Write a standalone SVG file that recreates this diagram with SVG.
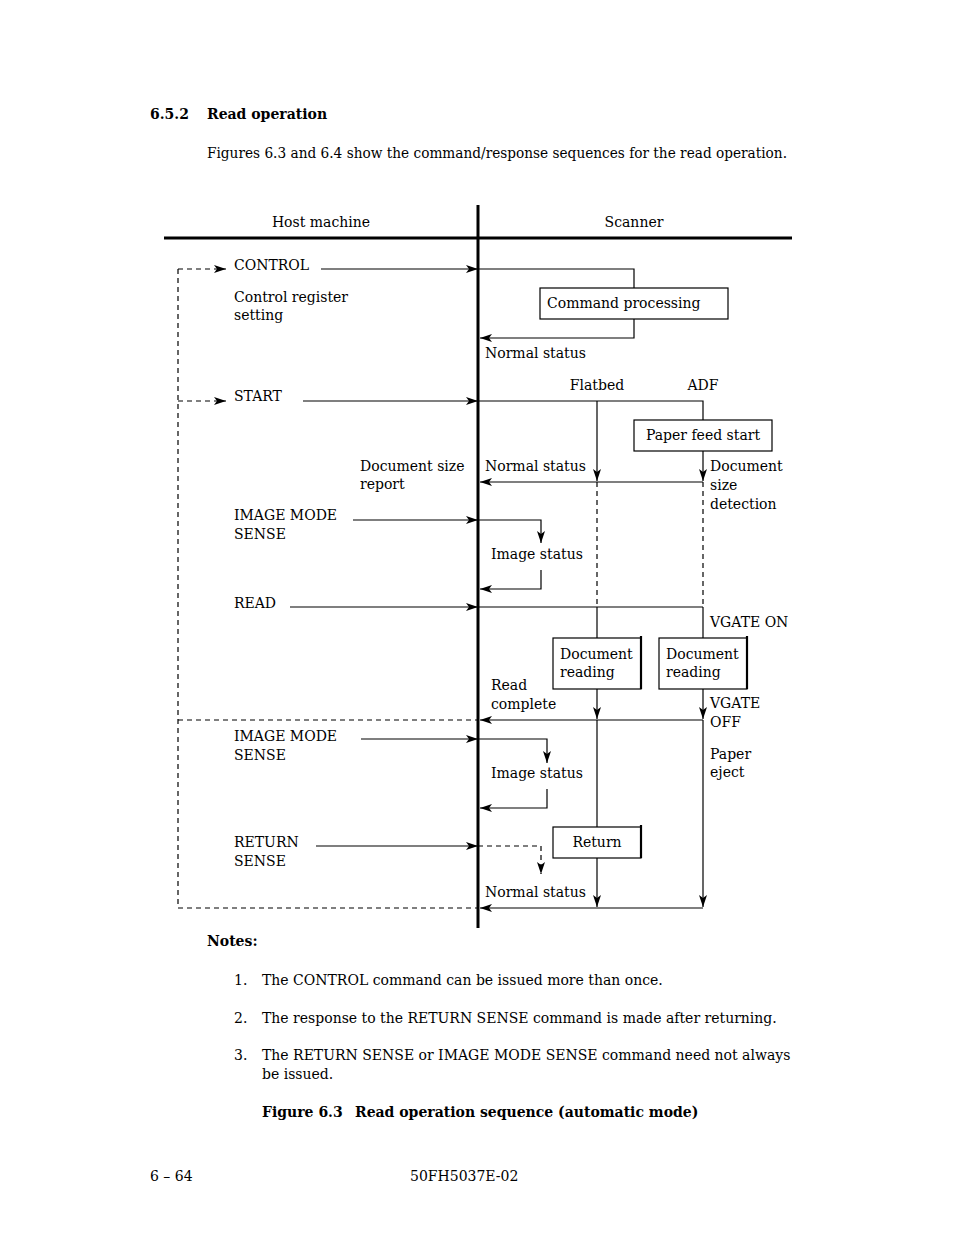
<svg xmlns="http://www.w3.org/2000/svg" width="954" height="1235" viewBox="0 0 954 1235">
<style>
text{font-family:"DejaVu Serif","Liberation Serif",serif;font-size:14px;fill:#000}
.b{font-weight:bold}
.c{text-anchor:middle}
.ln{stroke:#000;stroke-width:1.2;fill:none}
.ds{stroke:#000;stroke-width:1.2;fill:none;stroke-dasharray:5,4}
.thick{stroke:#000;stroke-width:3;fill:none}
.box{stroke:#000;stroke-width:1.2;fill:#fff}
.sh{stroke:#000;stroke-width:2.2;fill:none}
</style>
<defs>
<marker id="ah" viewBox="0 0 12 8" refX="12" refY="4" markerWidth="12" markerHeight="8" markerUnits="userSpaceOnUse" orient="auto">
<path d="M0,0 L12,4 L0,8 L3,4 z" fill="#000"/>
</marker>
</defs>
<rect width="954" height="1235" fill="#fff"/>

<g id="heading">
<text class="b" x="150" y="119">6.5.2</text>
<text class="b" x="207" y="119">Read operation</text>
<text x="207" y="158" textLength="580" lengthAdjust="spacingAndGlyphs">Figures 6.3 and 6.4 show the command/response sequences for the read operation.</text>
</g>

<g id="lanes">
<line class="thick" x1="478" y1="205" x2="478" y2="928"/>
<line class="thick" x1="164" y1="238" x2="792" y2="238"/>
<text class="c" x="321" y="227">Host machine</text>
<text class="c" x="634" y="227">Scanner</text>
</g>

<g id="connectors">
<!-- loop dashed -->
<line class="ds" x1="178" y1="269" x2="178" y2="908"/>
<line class="ds" x1="178" y1="269" x2="226" y2="269" marker-end="url(#ah)"/>
<line class="ds" x1="178" y1="401" x2="226" y2="401" marker-end="url(#ah)"/>
<line class="ds" x1="178" y1="720" x2="478" y2="720"/>
<line class="ds" x1="178" y1="908" x2="478" y2="908"/>
<!-- CONTROL -->
<line class="ln" x1="321" y1="269" x2="478" y2="269" marker-end="url(#ah)"/>
<polyline class="ln" points="478,269 634,269 634,288"/>
<polyline class="ln" points="634,319 634,338 480,338" marker-end="url(#ah)"/>
<!-- START -->
<line class="ln" x1="303" y1="401" x2="478" y2="401" marker-end="url(#ah)"/>
<polyline class="ln" points="478,401 703,401 703,420"/>
<line class="ln" x1="597" y1="401" x2="597" y2="481" marker-end="url(#ah)"/>
<line class="ln" x1="703" y1="451" x2="703" y2="481" marker-end="url(#ah)"/>
<line class="ln" x1="703" y1="482" x2="480" y2="482" marker-end="url(#ah)"/>
<line class="ds" x1="597" y1="482" x2="597" y2="607"/>
<line class="ds" x1="703" y1="482" x2="703" y2="607"/>
<!-- IMAGE MODE SENSE 1 -->
<line class="ln" x1="353" y1="520" x2="478" y2="520" marker-end="url(#ah)"/>
<polyline class="ln" points="478,520 541,520 541,543" marker-end="url(#ah)"/>
<polyline class="ln" points="541,570 541,589 480,589" marker-end="url(#ah)"/>
<!-- READ -->
<line class="ln" x1="290" y1="607" x2="478" y2="607" marker-end="url(#ah)"/>
<line class="ln" x1="478" y1="607" x2="703" y2="607"/>
<line class="ln" x1="597" y1="607" x2="597" y2="638"/>
<line class="ln" x1="703" y1="607" x2="703" y2="638"/>
<line class="ln" x1="597" y1="689" x2="597" y2="719" marker-end="url(#ah)"/>
<line class="ln" x1="703" y1="689" x2="703" y2="719" marker-end="url(#ah)"/>
<line class="ln" x1="703" y1="720" x2="480" y2="720" marker-end="url(#ah)"/>
<line class="ln" x1="597" y1="720" x2="597" y2="827"/>
<line class="ln" x1="597" y1="858" x2="597" y2="907" marker-end="url(#ah)"/>
<line class="ln" x1="703" y1="720" x2="703" y2="907" marker-end="url(#ah)"/>
<line class="ln" x1="703" y1="908" x2="480" y2="908" marker-end="url(#ah)"/>
<!-- IMAGE MODE SENSE 2 -->
<line class="ln" x1="361" y1="739" x2="478" y2="739" marker-end="url(#ah)"/>
<polyline class="ln" points="478,739 547,739 547,763" marker-end="url(#ah)"/>
<polyline class="ln" points="547,789 547,808 480,808" marker-end="url(#ah)"/>
<!-- RETURN SENSE -->
<line class="ln" x1="316" y1="846" x2="478" y2="846" marker-end="url(#ah)"/>
<polyline class="ds" points="478,846 541,846 541,874" marker-end="url(#ah)"/>
</g>

<g id="node-command-processing">
<rect class="box" x="540" y="288" width="188" height="31"/>
<text x="547" y="308">Command processing</text>
</g>
<g id="node-paper-feed-start">
<rect class="box" x="634" y="420" width="138" height="31"/>
<text class="c" x="703" y="440">Paper feed start</text>
</g>
<g id="node-doc-reading-flatbed">
<rect class="box" x="553" y="638" width="88" height="51"/>
<line class="sh" x1="641" y1="636" x2="641" y2="689"/>
<text x="560" y="659">Document</text>
<text x="560" y="677">reading</text>
</g>
<g id="node-doc-reading-adf">
<rect class="box" x="659" y="638" width="88" height="51"/>
<line class="sh" x1="747" y1="636" x2="747" y2="689"/>
<text x="666" y="659">Document</text>
<text x="666" y="677">reading</text>
</g>
<g id="node-return">
<rect class="box" x="553" y="827" width="88" height="31"/>
<line class="sh" x1="641" y1="825" x2="641" y2="858"/>
<text class="c" x="597" y="847">Return</text>
</g>

<g id="labels">
<text x="234" y="270">CONTROL</text>
<text x="234" y="302">Control register</text>
<text x="234" y="320">setting</text>
<text x="485" y="358">Normal status</text>
<text class="c" x="597" y="390">Flatbed</text>
<text class="c" x="703" y="390">ADF</text>
<text x="234" y="401">START</text>
<text x="360" y="471">Document size</text>
<text x="360" y="489">report</text>
<text x="485" y="471">Normal status</text>
<text x="710" y="471">Document</text>
<text x="710" y="490">size</text>
<text x="710" y="509">detection</text>
<text x="234" y="520">IMAGE MODE</text>
<text x="234" y="539">SENSE</text>
<text x="491" y="559">Image status</text>
<text x="234" y="608">READ</text>
<text x="710" y="627">VGATE ON</text>
<text x="491" y="690">Read</text>
<text x="491" y="709">complete</text>
<text x="710" y="708">VGATE</text>
<text x="710" y="727">OFF</text>
<text x="234" y="741">IMAGE MODE</text>
<text x="234" y="760">SENSE</text>
<text x="710" y="759">Paper</text>
<text x="710" y="777">eject</text>
<text x="491" y="778">Image status</text>
<text x="234" y="847">RETURN</text>
<text x="234" y="866">SENSE</text>
<text x="485" y="897">Normal status</text>
</g>

<g id="notes">
<text class="b" x="207" y="946">Notes:</text>
<text x="234" y="985">1.</text>
<text x="262" y="985">The CONTROL command can be issued more than once.</text>
<text x="234" y="1023">2.</text>
<text x="262" y="1023">The response to the RETURN SENSE command is made after returning.</text>
<text x="234" y="1060">3.</text>
<text x="262" y="1060">The RETURN SENSE or IMAGE MODE SENSE command need not always</text>
<text x="262" y="1079">be issued.</text>
<text class="b" x="262" y="1117">Figure 6.3</text>
<text class="b" x="355" y="1117">Read operation sequence (automatic mode)</text>
</g>

<g id="footer">
<text x="150" y="1181">6 – 64</text>
<text x="410" y="1181">50FH5037E-02</text>
</g>
</svg>
